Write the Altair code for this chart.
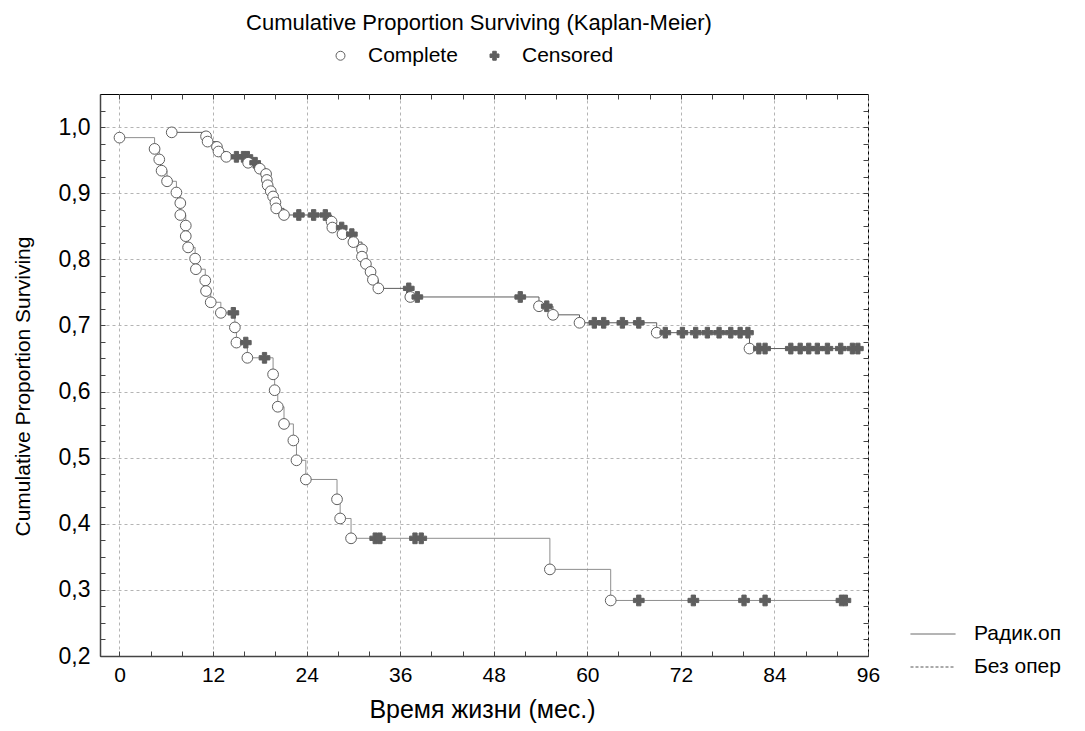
import altair as alt
import pandas as pd

# ---- data ----
groups = ["Радик.оп", "Без опер"]
status_names = ["Complete", "Censored"]

# Радик.оп (upper curve): time, survival, status (1 = complete, 0 = censored)
op_time = [6.7, 11.1, 11.3, 12.5, 12.7, 13.7, 15.0, 15.9, 16.4, 16.5, 17.4, 18.0, 18.8,
           18.9, 19.0, 19.4, 19.7, 20.0, 20.1, 21.1, 23.0, 24.9, 26.4, 27.2, 27.3, 28.5,
           28.6, 29.8, 30.0, 31.1, 31.1, 31.6, 32.2, 32.5, 33.2, 37.1, 37.3, 38.2, 51.4,
           53.8, 54.8, 55.6, 59.0, 60.9, 62.1, 64.5, 66.6, 68.9, 70.0, 72.2, 73.9, 75.4,
           76.9, 78.4, 79.6, 80.6, 80.8, 82.0, 82.8, 86.1, 87.3, 88.4, 89.5, 90.8, 92.5,
           94.0, 94.7]
op_surv = [0.992, 0.986, 0.978, 0.970, 0.963, 0.955, 0.955, 0.955, 0.955, 0.946, 0.946,
           0.937, 0.929, 0.920, 0.912, 0.903, 0.895, 0.886, 0.877, 0.867, 0.867, 0.867,
           0.867, 0.857, 0.848, 0.848, 0.838, 0.838, 0.826, 0.815, 0.804, 0.793, 0.781,
           0.769, 0.756, 0.756, 0.743, 0.743, 0.743, 0.729, 0.729, 0.716, 0.704, 0.704,
           0.704, 0.704, 0.704, 0.689, 0.689, 0.689, 0.689, 0.689, 0.689, 0.689, 0.689,
           0.689, 0.665, 0.665, 0.665, 0.665, 0.665, 0.665, 0.665, 0.665, 0.665, 0.665,
           0.665]
op_stat = [1, 1, 1, 1, 1, 1, 0, 0, 0, 1, 0, 1, 1, 1, 1, 1, 1, 1, 1, 1, 0, 0, 0, 1, 1, 0,
           1, 0, 1, 1, 1, 1, 1, 1, 1, 0, 1, 0, 0, 1, 0, 1, 1, 0, 0, 0, 0, 1, 0, 0, 0, 0,
           0, 0, 0, 0, 1, 0, 0, 0, 0, 0, 0, 0, 0, 0, 0]

# Без опер (lower curve)
no_time = [0.0, 4.5, 5.1, 5.4, 6.1, 7.3, 7.8, 7.8, 8.5, 8.5, 8.8, 9.7, 9.8, 11.0, 11.1,
           11.7, 13.0, 14.6, 14.8, 15.0, 16.2, 16.4, 18.6, 19.7, 19.9, 20.3, 21.1, 22.3,
           22.7, 23.9, 27.9, 28.3, 29.7, 32.8, 33.4, 37.9, 38.7, 55.2, 63.0, 66.6, 73.6,
           80.1, 82.8, 92.6, 93.1]
no_surv = [0.984, 0.967, 0.951, 0.934, 0.918, 0.901, 0.885, 0.867, 0.851, 0.835, 0.818,
           0.801, 0.785, 0.768, 0.752, 0.735, 0.719, 0.719, 0.697, 0.674, 0.674, 0.651,
           0.651, 0.626, 0.602, 0.577, 0.551, 0.526, 0.496, 0.467, 0.437, 0.408, 0.378,
           0.378, 0.378, 0.378, 0.378, 0.331, 0.284, 0.284, 0.284, 0.284, 0.284, 0.284,
           0.284]
no_stat = [1, 1, 1, 1, 1, 1, 1, 1, 1, 1, 1, 1, 1, 1, 1, 1, 1, 0, 1, 1, 0, 1, 0, 1, 1, 1,
           1, 1, 1, 1, 1, 1, 1, 0, 0, 0, 0, 1, 1, 0, 0, 0, 0, 0, 0]

x_major = [0, 12, 24, 36, 48, 60, 72, 84, 96]
x_minor = list(range(0, 97, 4))
y_major = [0.2, 0.3, 0.4, 0.5, 0.6, 0.7, 0.8, 0.9, 1.0]
y_minor = [round(0.2 + 0.025 * i, 3) for i in range(34)]

rows = []
for grp, ts, ss, st in [(groups[0], op_time, op_surv, op_stat),
                        (groups[1], no_time, no_surv, no_stat)]:
    for i, (t, s, k) in enumerate(zip(ts, ss, st)):
        rows.append({"group": grp, "t": t, "s": s,
                     "status": status_names[0] if k == 1 else status_names[1],
                     "order": i})
df = pd.DataFrame(rows)

W, H = 768, 562
FONT = "Liberation Sans"

xs = alt.Scale(domain=[-2.5, 96], nice=False, zero=False)
ys = alt.Scale(domain=[0.2, 1.05], nice=False, zero=False)

# main axes (labels, grid, left/bottom frame)
ax_x_main = alt.Axis(orient="bottom", values=x_major, grid=True, gridDash=[3, 3],
                     gridColor="#b4b4b4", ticks=False, tickSize=0, domain=True,
                     domainColor="#444444", domainWidth=1.5, labelFontSize=21,
                     labelColor="#000", labelPadding=8, labelFlush=False,
                     title="Время жизни (мес.)", titleFontSize=25, titleFontWeight="normal",
                     titleColor="#000", titleX=382, titleY=53, titleBaseline="middle",
                     titleAlign="center")
ax_y_main = alt.Axis(orient="left", values=y_major, grid=True, gridDash=[3, 3],
                     gridColor="#b4b4b4", ticks=False, tickSize=0, domain=True,
                     domainColor="#444444", domainWidth=1.5, labelFontSize=23,
                     labelColor="#000", labelPadding=10, labelFlush=False,
                     labelExpr="replace(format(datum.value, '.1f'), '.', ',')",
                     title="Cumulative Proportion Surviving", titleFontSize=21,
                     titleFontWeight="normal", titleColor="#000", titleX=-77, titleY=292,
                     titleAngle=270, titleBaseline="middle", titleAlign="center")
# inner ticks at the bottom and left
ax_x_in_bottom = alt.Axis(orient="top", offset=-H, values=x_minor, grid=False, domain=False,
                          labels=False, ticks=True, tickSize=5, tickColor="#444", title=None)
ax_y_in_left = alt.Axis(orient="right", offset=-W, values=y_minor, grid=False, domain=False,
                        labels=False, ticks=True, tickSize=5, tickColor="#444", title=None)
# inner ticks at the top and right
ax_x_in_top = alt.Axis(orient="bottom", offset=-H, values=x_minor, grid=False, domain=False,
                       labels=False, ticks=True, tickSize=5, tickColor="#444", title=None)
ax_y_in_right = alt.Axis(orient="left", offset=-W, values=y_minor, grid=False, domain=False,
                         labels=False, ticks=True, tickSize=5, tickColor="#444", title=None)

base = alt.Chart(df)

lines = base.mark_line(interpolate="step-after", strokeWidth=1).encode(
    x=alt.X("t:Q", scale=xs, axis=ax_x_main),
    y=alt.Y("s:Q", scale=ys, axis=ax_y_main),
    stroke=alt.Stroke("group:N", scale=alt.Scale(domain=groups, range=["#5c5c5c", "#8e8e8e"]),
                      legend=None),
    order="order:Q",
)

legend_lines = base.mark_line(interpolate="step-after", strokeWidth=1, opacity=0,
                              color="#555555").encode(
    x=alt.X("t:Q", scale=xs, axis=ax_x_in_bottom),
    y=alt.Y("s:Q", scale=ys, axis=ax_y_in_left),
    strokeDash=alt.StrokeDash(
        "group:N", scale=alt.Scale(domain=groups, range=[[1, 0], [3, 2]]),
        legend=alt.Legend(orient="none", legendX=810, legendY=517, title=None,
                          symbolType="stroke", symbolSize=2025, symbolStrokeWidth=1,
                          symbolStrokeColor="#555555", labelFontSize=21, labelColor="#000",
                          labelOffset=18, rowPadding=-3, padding=0, labelLimit=400)),
    order="order:Q",
)

status_legend = alt.Legend(orient="none", direction="horizontal", legendX=230, legendY=-49,
                           title=None, symbolSize=80, symbolStrokeWidth=1,
                           symbolStrokeColor="#5f5f5f", labelFontSize=21, labelColor="#000",
                           labelOffset=17, columnPadding=26, padding=0)

points = base.mark_point(filled=True, opacity=1, stroke="#5f5f5f", strokeWidth=1,
                         size=115).encode(
    x=alt.X("t:Q", scale=xs, axis=ax_x_in_top),
    y=alt.Y("s:Q", scale=ys, axis=ax_y_in_right),
    shape=alt.Shape("status:N", scale=alt.Scale(domain=status_names, range=["circle", "cross"]),
                    legend=status_legend),
    color=alt.Color("status:N", scale=alt.Scale(domain=status_names, range=["#ffffff", "#5f5f5f"]),
                    legend=status_legend),
)

chart = alt.layer(lines, legend_lines, points).resolve_axis(
    x="independent", y="independent"
).resolve_scale(stroke="independent").properties(
    width=W, height=H,
    title=alt.TitleParams("Cumulative Proportion Surviving (Kaplan-Meier)", fontSize=22,
                          fontWeight="normal", color="#000", anchor="middle", offset=10, dx=-5),
    autosize=alt.AutoSizeParams(type="none"),
    padding={"left": 92, "top": 86, "right": 209, "bottom": 67},
).configure(font=FONT, background="white").configure_view(stroke="#000", strokeWidth=1)

chart.save("out.html", embed_options={"renderer": "svg", "actions": False})
